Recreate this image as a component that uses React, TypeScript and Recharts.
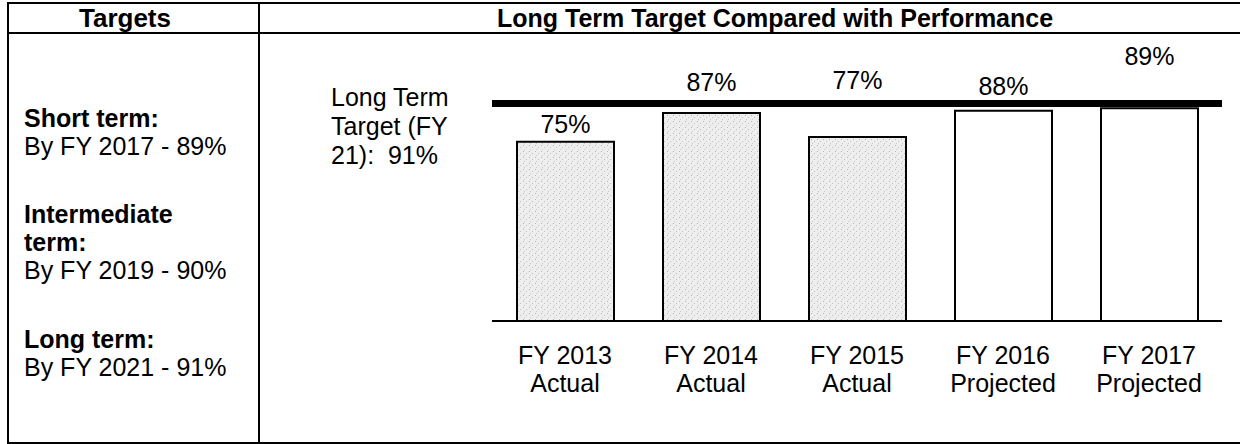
import { BarChart, Bar, XAxis, YAxis, ReferenceLine, LabelList, Cell } from 'recharts';

const categories = ['FY 2013', 'FY 2014', 'FY 2015', 'FY 2016', 'FY 2017'];
const kinds = ['Actual', 'Actual', 'Actual', 'Projected', 'Projected'];
const performance = [75, 87, 77, 88, 89];
const longTermTarget = 91;
const targetLabelLines = ['Long Term', 'Target (FY', '21):  91%'];

const goalTitles = [['Short term:'], ['Intermediate', 'term:'], ['Long term:']];
const goalTexts = ['By FY 2017 - 89%', 'By FY 2019 - 90%', 'By FY 2021 - 91%'];

const data = categories.map((name, i) => ({ name, kind: kinds[i], value: performance[i] }));

const FONT = '"Liberation Sans", Arial, sans-serif';

// how far above the bar top each value label sits (the scan places them by hand)
const labelRise = [18, 31, 57, 25, 52];

function YearTick(props: any) {
  const { x, y, payload, index } = props;
  return (
    <g>
      <text x={x} y={y + 41} textAnchor="middle" fontSize={25} fontFamily={FONT} fill="#000">
        {payload.value}
      </text>
      <text x={x} y={y + 69} textAnchor="middle" fontSize={25} fontFamily={FONT} fill="#000">
        {kinds[index]}
      </text>
    </g>
  );
}

function ValueLabel(props: any) {
  const { x, y, width, value, index } = props;
  return (
    <text
      x={x + width / 2}
      y={y - labelRise[index] + 9}
      textAnchor="middle"
      fontSize={25}
      fontFamily={FONT}
      fill="#000"
    >
      {value}%
    </text>
  );
}

function TargetLabel(props: any) {
  const { viewBox } = props;
  const x = viewBox.x - 161;
  return (
    <text fontSize={25} fontFamily={FONT} fill="#000" style={{ whiteSpace: 'pre' }}>
      {targetLabelLines.map((line, i) => (
        <tspan key={i} x={x} y={viewBox.y + 2 + i * 29}>
          {line}
        </tspan>
      ))}
    </text>
  );
}

export default function App() {
  return (
    <div
      style={{
        position: 'absolute',
        left: 0,
        top: 0,
        width: 1240,
        height: 444,
        overflow: 'hidden',
        background: '#fff',
        fontFamily: FONT,
        color: '#000',
      }}
    >
      {/* table frame */}
      <div style={{ position: 'absolute', left: 7, top: 2, width: 1300, height: 438, border: '2px solid #000' }} />
      <div style={{ position: 'absolute', left: 7, top: 32, width: 1300, height: 2, background: '#000' }} />
      <div style={{ position: 'absolute', left: 258, top: 2, width: 2, height: 442, background: '#000' }} />

      <div style={{ position: 'absolute', left: 0, top: 4, width: 250, textAlign: 'center', fontSize: 26, fontWeight: 'bold', lineHeight: '28px' }}>
        Targets
      </div>
      <div style={{ position: 'absolute', left: 497, top: 4, whiteSpace: 'nowrap', fontSize: 25, fontWeight: 'bold', lineHeight: '28px' }}>
        Long Term Target Compared with Performance
      </div>

      {goalTitles.map((title, i) => (
        <div
          key={i}
          style={{ position: 'absolute', left: 24, top: [104, 200, 325][i], fontSize: 25, lineHeight: '28px' }}
        >
          {title.map((t) => (
            <div key={t} style={{ fontWeight: 'bold' }}>
              {t}
            </div>
          ))}
          <div>{goalTexts[i]}</div>
        </div>
      ))}

      <div style={{ position: 'absolute', left: 0, top: 0 }}>
        <BarChart
          width={1240}
          height={444}
          data={data}
          margin={{ top: 82, right: 18, bottom: 93, left: 492 }}
          barSize={97}
        >
          <defs>
            <pattern id="stipple" width="6" height="6" patternUnits="userSpaceOnUse">
              <rect width="6" height="6" fill="#eeeeee" />
              <rect x="1" y="1" width="1" height="1" fill="#b5b5b5" />
              <rect x="4" y="3" width="1" height="1" fill="#c0c0c0" />
              <rect x="2" y="5" width="1" height="1" fill="#c8c8c8" />
            </pattern>
          </defs>
          <YAxis hide domain={[0, 100]} />
          <XAxis
            dataKey="name"
            height={30}
            axisLine={{ stroke: '#000', strokeWidth: 2 }}
            tickLine={false}
            tickSize={0}
            tick={<YearTick />}
            interval={0}
          />
          <Bar dataKey="value" stroke="#000" strokeWidth={2} isAnimationActive={false}>
            {data.map((d, i) => (
              <Cell key={i} fill={d.kind === 'Actual' ? 'url(#stipple)' : '#fff'} />
            ))}
            <LabelList dataKey="value" content={<ValueLabel />} />
          </Bar>
          <ReferenceLine
            y={longTermTarget}
            stroke="#000"
            strokeWidth={7}
            ifOverflow="extendDomain"
            label={<TargetLabel />}
          />
        </BarChart>
      </div>
    </div>
  );
}
